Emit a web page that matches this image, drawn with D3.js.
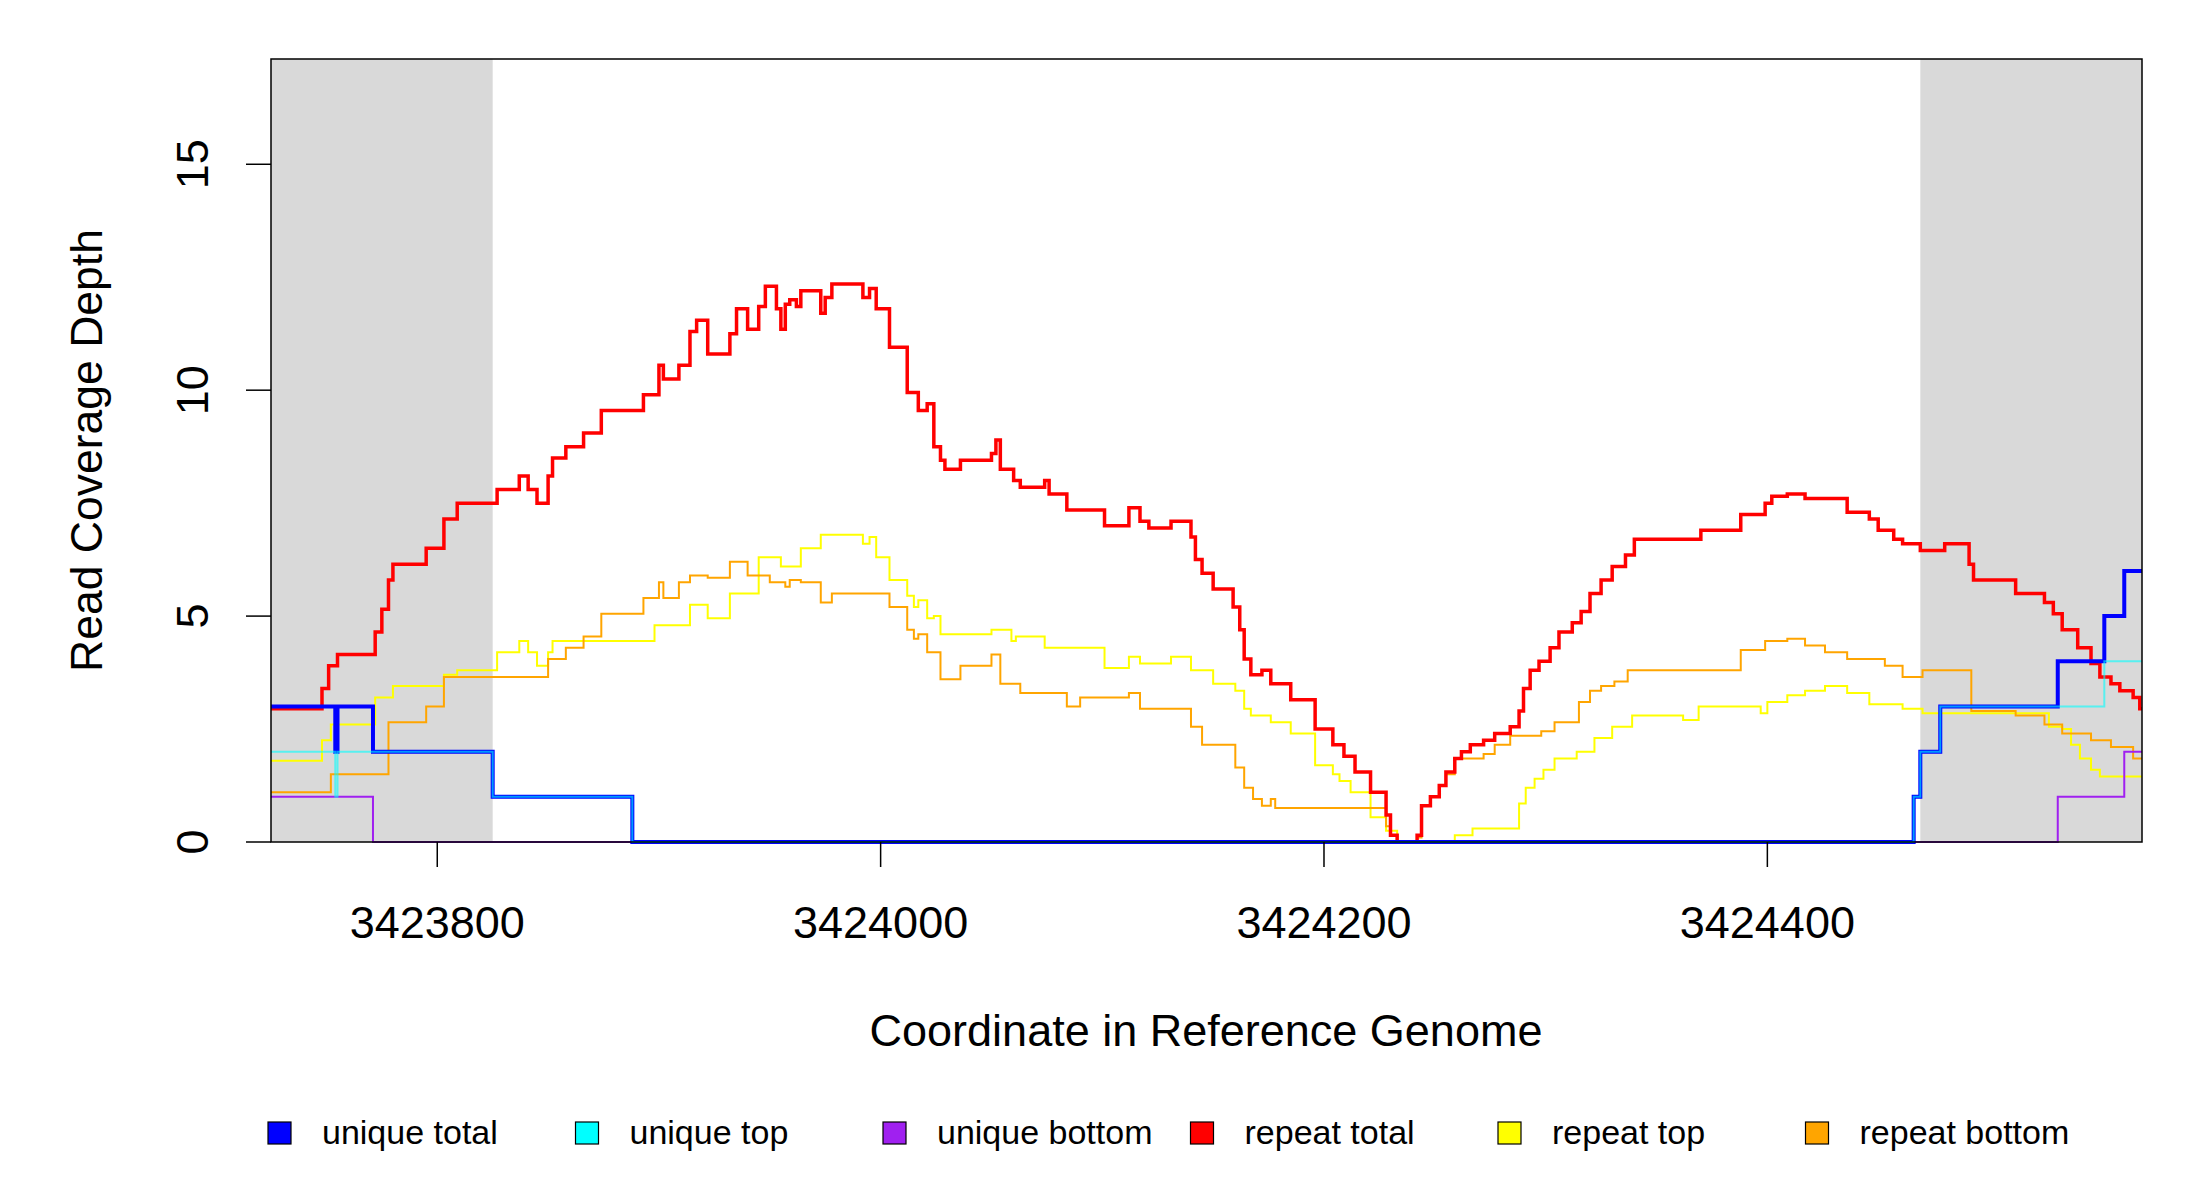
<!DOCTYPE html>
<html><head><meta charset="utf-8">
<script src="https://cdn.jsdelivr.net/npm/d3@7"></script>
<style>body{margin:0;background:#fff}svg{display:block}text{font-family:"Liberation Sans",Arial,sans-serif}</style>
</head><body><svg id="c" width="2200" height="1200"></svg>
<script>
const base = 3423725;
const xEnd = 844;
const xTicks = [3423800, 3424000, 3424200, 3424400];
const yTicks = [0, 5, 10, 15];
const greyRegions = [[0, 100], [744, 844]];
// [offset from base, value] step points
const repeatTotal = [[0,2.95],[23,3.4],[26,3.9],[30,4.15],[47,4.65],[50,5.15],[53,5.8],[55,6.15],[70,6.5],[78,7.15],[84,7.5],[102,7.8],[112,8.1],[116,7.8],[120,7.5],[125,8.1],[127,8.5],[133,8.75],[141,9.05],[149,9.55],[168,9.9],[175,10.55],[177,10.25],[184,10.55],[189,11.3],[192,11.55],[197,10.8],[207,11.25],[210,11.8],[215,11.35],[220,11.85],[223,12.3],[228,11.8],[230,11.35],[232,11.9],[234,12.0],[237,11.85],[239,12.2],[248,11.7],[250,12.05],[253,12.35],[267,12.05],[270,12.25],[273,11.8],[279,10.95],[287,9.95],[292,9.55],[296,9.7],[299,8.75],[302,8.45],[304,8.25],[311,8.45],[325,8.6],[327,8.9],[329,8.25],[335,8.0],[338,7.85],[349,8.0],[351,7.7],[359,7.35],[376,7.0],[387,7.4],[392,7.1],[396,6.95],[406,7.1],[415,6.75],[417,6.25],[420,5.95],[425,5.6],[434,5.2],[437,4.7],[439,4.05],[442,3.7],[447,3.8],[451,3.5],[460,3.15],[471,2.5],[479,2.15],[484,1.9],[489,1.55],[496,1.1],[503,0.6],[505,0.15],[508,0],[517,0.15],[519,0.8],[523,1.0],[527,1.25],[530,1.55],[534,1.85],[537,2.0],[541,2.15],[547,2.25],[552,2.4],[559,2.55],[563,2.9],[565,3.4],[568,3.8],[572,4.0],[577,4.3],[581,4.65],[587,4.85],[591,5.1],[595,5.5],[600,5.8],[605,6.1],[611,6.35],[615,6.7],[645,6.9],[663,7.25],[674,7.5],[677,7.65],[684,7.7],[692,7.6],[711,7.3],[721,7.15],[725,6.9],[732,6.7],[736,6.6],[744,6.45],[755,6.6],[766,6.15],[768,5.8],[787,5.5],[800,5.3],[804,5.05],[808,4.7],[815,4.3],[821,3.95],[825,3.65],[830,3.5],[834,3.35],[840,3.2],[843,2.95]];
const repeatTop = [[0,1.8],[23,2.25],[27,2.6],[47,3.2],[55,3.45],[78,3.7],[84,3.8],[102,4.2],[112,4.45],[116,4.2],[120,3.9],[125,4.2],[127,4.45],[173,4.8],[189,5.25],[197,4.95],[207,5.5],[220,6.3],[230,6.1],[239,6.5],[248,6.8],[267,6.6],[270,6.75],[273,6.3],[279,5.8],[287,5.45],[290,5.2],[292,5.35],[296,4.95],[299,5.0],[302,4.6],[325,4.7],[334,4.45],[336,4.55],[349,4.3],[376,3.85],[387,4.1],[392,3.95],[406,4.1],[415,3.8],[425,3.5],[435,3.35],[439,2.95],[442,2.8],[451,2.65],[460,2.4],[471,1.7],[479,1.5],[482,1.35],[487,1.1],[496,0.55],[503,0.25],[508,0],[534,0.15],[542,0.3],[563,0.85],[566,1.2],[570,1.4],[574,1.6],[579,1.85],[589,2.0],[597,2.3],[605,2.55],[614,2.8],[637,2.7],[644,3.0],[672,2.85],[675,3.1],[684,3.25],[692,3.35],[701,3.45],[711,3.3],[721,3.05],[736,2.95],[745,2.85],[802,2.55],[808,2.5],[812,2.15],[816,1.85],[821,1.6],[825,1.45]];
const repeatBottom = [[0,1.1],[27,1.5],[49,1.5],[53,2.65],[70,3.0],[78,3.65],[125,4.05],[133,4.3],[141,4.55],[149,5.05],[168,5.4],[175,5.75],[177,5.4],[184,5.75],[189,5.9],[197,5.85],[207,6.2],[215,5.9],[225,5.75],[232,5.65],[234,5.8],[239,5.75],[248,5.3],[253,5.5],[279,5.2],[287,4.7],[290,4.5],[292,4.6],[296,4.2],[302,3.6],[311,3.9],[325,4.15],[329,3.5],[338,3.3],[359,3.0],[365,3.2],[387,3.3],[392,2.95],[415,2.55],[420,2.15],[435,1.65],[439,1.2],[443,0.95],[447,0.8],[451,0.95],[453,0.75],[503,0.35],[505,0.15],[508,0],[517,0.1],[519,0.8],[523,1.0],[527,1.25],[530,1.5],[534,1.85],[547,1.95],[552,2.15],[559,2.35],[573,2.45],[579,2.65],[590,3.1],[595,3.35],[600,3.45],[606,3.55],[612,3.8],[663,4.25],[674,4.45],[684,4.5],[692,4.35],[701,4.2],[711,4.05],[728,3.9],[736,3.65],[745,3.8],[767,2.9],[787,2.8],[800,2.6],[808,2.4],[821,2.25],[830,2.1],[840,1.85]];
const uniqueTotal = [[0,3],[29,2],[30,3],[46,2],[100,1],[163,0],[741,1],[744,2],[753,3],[806,4],[827,5],[836,6]];
const uniqueTop = [[0,2],[29,1],[30,2],[100,1],[163,0],[741,1],[744,2],[753,3],[827,4]];
const uniqueBottom = [[0,1],[46,0],[806,1],[836,2]];
const legendLabels = ["unique total","unique top","unique bottom","repeat total","repeat top","repeat bottom"];
const legendColors = ["#0000FF","#00FFFF","#A020F0","#FF0000","#FFFF00","#FFA500"];

const svg = d3.select("#c");
const L=271, R=2142, T=59, B=842;
const x = d3.scaleLinear().domain([base, base+xEnd]).range([L,R]);
const y = d3.scaleLinear().domain([0,17.33]).range([B,T]);
greyRegions.forEach(g=>svg.append("rect").attr("x",x(base+g[0])).attr("y",T).attr("width",x(base+g[1])-x(base+g[0])).attr("height",B-T).attr("fill","#d9d9d9"));
const line = d3.line().curve(d3.curveStepAfter).x(d=>x(base+d[0])).y(d=>y(d[1]));
function draw(data,color,w,op){
  const pts = data.concat([[xEnd,data[data.length-1][1]]]);
  svg.append("path").attr("d",line(pts)).attr("fill","none").attr("stroke",color).attr("stroke-width",w).attr("stroke-opacity",op);
}
draw(repeatTop,"#FFFF00",2,1);
draw(repeatBottom,"#FFA500",2,1);
draw(repeatTotal,"#FF0000",3.5,1);
draw(uniqueBottom,"#A020F0",2,1);
draw(uniqueTotal,"#0000FF",4,1);
draw(uniqueTop,"#00FFFF",2,0.6);
svg.append("rect").attr("x",L).attr("y",T).attr("width",R-L).attr("height",B-T).attr("fill","none").attr("stroke","#000").attr("stroke-width",1.5);
xTicks.forEach(t=>{
  svg.append("line").attr("x1",x(t)).attr("x2",x(t)).attr("y1",B).attr("y2",B+25).attr("stroke","#000").attr("stroke-width",1.5);
  svg.append("text").attr("x",x(t)).attr("y",938).attr("text-anchor","middle").attr("font-size",45).text(t);
});
yTicks.forEach(t=>{
  svg.append("line").attr("x1",L-25).attr("x2",L).attr("y1",y(t)).attr("y2",y(t)).attr("stroke","#000").attr("stroke-width",1.5);
  svg.append("text").attr("transform",`translate(208,${y(t)}) rotate(-90)`).attr("text-anchor","middle").attr("font-size",45).text(t);
});
svg.append("text").attr("transform",`translate(102,${(T+B)/2}) rotate(-90)`).attr("text-anchor","middle").attr("font-size",44.5).text("Read Coverage Depth");
svg.append("text").attr("x",1206).attr("y",1046).attr("text-anchor","middle").attr("font-size",45).text("Coordinate in Reference Genome");
legendLabels.forEach((l,i)=>{
  const lx = 268 + i*307.5;
  svg.append("rect").attr("x",lx).attr("y",1122).attr("width",23).attr("height",22).attr("fill",legendColors[i]).attr("stroke","#000").attr("stroke-width",1.2);
  svg.append("text").attr("x",lx+54).attr("y",1144).attr("font-size",34).text(l);
});
</script></body></html>
